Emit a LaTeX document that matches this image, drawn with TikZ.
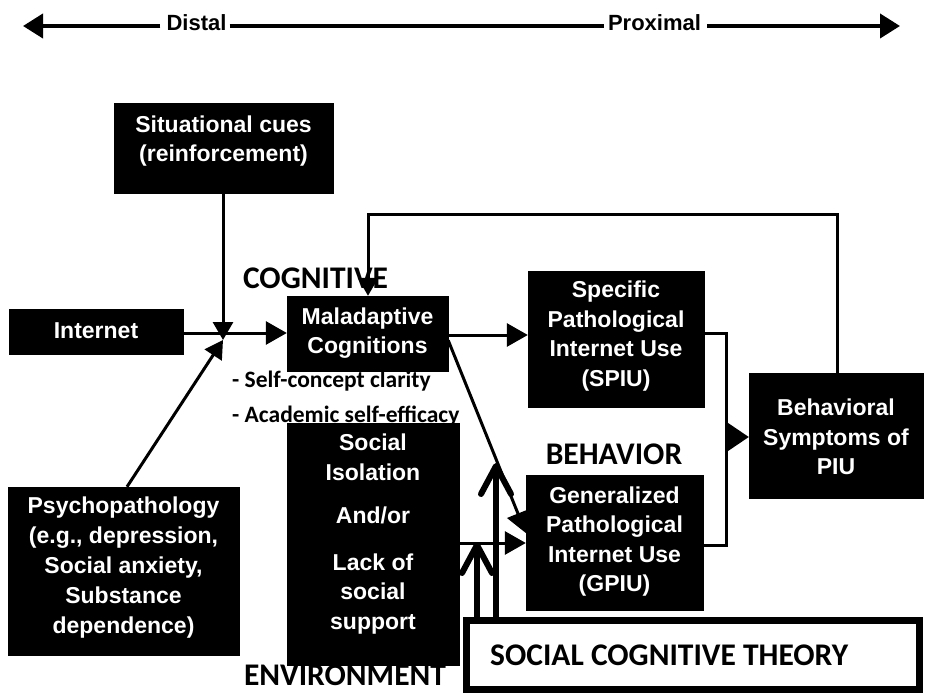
\documentclass[tikz,border=0pt]{standalone}
\usepackage{fontspec}
\setmainfont{Liberation Sans}
\newfontfamily\carl{Carlito}
\usetikzlibrary{arrows.meta,calc}
\tikzset{
  blk/.style={rectangle, fill=black, draw=black, text=white, inner sep=0pt},
  wtxt/.style={text=white, font=\bfseries\fontsize{23}{29.5}\selectfont, align=center, inner sep=0pt},
  arr/.style={line width=3pt, -{Triangle[length=21pt,width=23pt]}},
  arrs/.style={line width=3pt, -{Triangle[length=18pt,width=20pt]}},
  arrb/.style={line width=3pt, -{Triangle[length=22pt,width=29pt]}},
  conn/.style={line width=3pt},
  lbl/.style={font=\carl\bfseries\fontsize{31.5}{36}\selectfont, inner sep=0pt},
  sub/.style={font=\carl\bfseries\fontsize{23.5}{28}\selectfont, inner sep=0pt},
  bigup/.style={line width=6pt, line cap=round, -{Straight Barb[length=28pt,width=30pt,round]}},
  axisline/.style={line width=4pt},
  axisarr/.style={line width=4pt, -{Triangle[length=20pt,width=24pt]}},
  axislbl/.style={font=\bfseries\fontsize{22}{26}\selectfont, inner sep=0pt},
  sctbox/.style={rectangle, draw=black, fill=white, line width=7pt, minimum width=453pt, minimum height=69pt, inner sep=0pt},
}
\begin{document}
\begin{tikzpicture}[x=1pt,y=-1pt]
\fill[white] (0,0) rectangle (926,695);
\path[use as bounding box] (0,0) rectangle (926,695);

% distal-proximal axis
\coordinate (tl) at (23,26);
\coordinate (tr) at (900,26);
\node[axislbl] (distal) at (196.5,23) {Distal};
\node[axislbl] (prox) at (654.5,23) {Proximal};
\draw[axisarr] ([xshift=-6pt]tl -| distal.west) -- (tl);
\draw[axisline] ([xshift=3pt]tl -| distal.east) -- ([xshift=-4pt]tl -| prox.west);
\draw[axisarr] ([xshift=6pt]tl -| prox.east) -- (tr);

% boxes
\node[blk, minimum width=219pt, minimum height=90pt] (sit) at (223.5,148) {};
\node[wtxt] (sitT) at (223.5,141) {Situational cues\\(reinforcement)};
\node[blk, minimum width=174pt, minimum height=45pt] (inet) at (96,331.5) {};
\node[wtxt] (inetT) at (96,331) {Internet};
\node[blk, minimum width=161pt, minimum height=75pt] (mal) at (367.5,333.5) {};
\node[wtxt] (malT) at (367.5,333) {Maladaptive\\Cognitions};
\node[blk, minimum width=176pt, minimum height=136pt] (spiu) at (616,339) {};
\node[wtxt] (spiuT) at (616,336) {Specific\\Pathological\\Internet Use\\(SPIU)};
\node[blk, minimum width=174pt, minimum height=125pt] (beh) at (836,435.5) {};
\node[wtxt] (behT) at (836,437) {Behavioral\\Symptoms of\\PIU};
\node[blk, minimum width=177pt, minimum height=135pt] (gpiu) at (614.5,542.5) {};
\node[wtxt] (gpiuT) at (614.5,541.5) {Generalized\\Pathological\\Internet Use\\(GPIU)};
\node[blk, minimum width=231pt, minimum height=168pt] (psy) at (123.5,571) {};
\node[wtxt, font=\bfseries\fontsize{23}{30}\selectfont] (psyT) at (123.5,568) {Psychopathology\\(e.g., depression,\\Social anxiety,\\Substance\\dependence)};
\node[blk, minimum width=172pt, minimum height=242pt] (soc) at (373,544) {};
\node[wtxt] (socT) at (373,534) {Social\\Isolation\\[14pt]And/or\\[17pt]Lack of\\social\\support};

% SCT box
\node[sctbox] (sct) at (693,655) {};
\node[lbl, anchor=west] (sctT) at (490,655) {SOCIAL COGNITIVE THEORY};

% labels
\node[lbl] (cog) at (315.5,278) {COGNITIVE};
\node[lbl] (behav) at (614,454) {BEHAVIOR};
\node[lbl] (env) at (345,675) {ENVIRONMENT};
\node[sub, anchor=base west] (scc) at (232,387) {- Self-concept clarity};
\node[sub, anchor=base west] (ase) at (232,422) {- Academic self-efficacy};

% connectors
\coordinate (J) at (223,333);
\coordinate (Jt) at (223,340);
\draw[arrs] (sit.south -| Jt) -- (Jt);
\draw[arrs] ($(psy.north)+(3.5,0)$) -- (Jt);
\draw[conn] (inet.east |- J) -- (J);
\draw[arr] (J) -- (mal.west |- J);
\draw[arr] (mal.east |- 0,335) -- (spiu.west |- 0,335);

\coordinate (fb1) at (837,215);
\coordinate (fb2) at (368,215);
\draw[arrs] (beh.north -| fb1) -- (fb1) -- (fb2) -- (mal.north -| fb2);

\draw[arr] ($(mal.south east)!0.41!(mal.north east)$) -- ($(gpiu.north west)!0.43!(gpiu.south west)$);
\draw[arr] (soc.east |- 0,543) -- (gpiu.west |- 0,543);

\coordinate (m) at (726,437);
\draw[conn] (spiu.east |- 0,333) -| (m);
\draw[conn] (gpiu.east |- 0,545) -| (m);
\draw[arrb] (m) -- (beh.west |- m);

\coordinate (t1) at (477,542);
\coordinate (t2) at (496,463);
\draw[bigup] (t1 |- 0,617) -- (t1);
\draw[bigup] (t2 |- 0,617) -- (t2);
\end{tikzpicture}
\end{document}
